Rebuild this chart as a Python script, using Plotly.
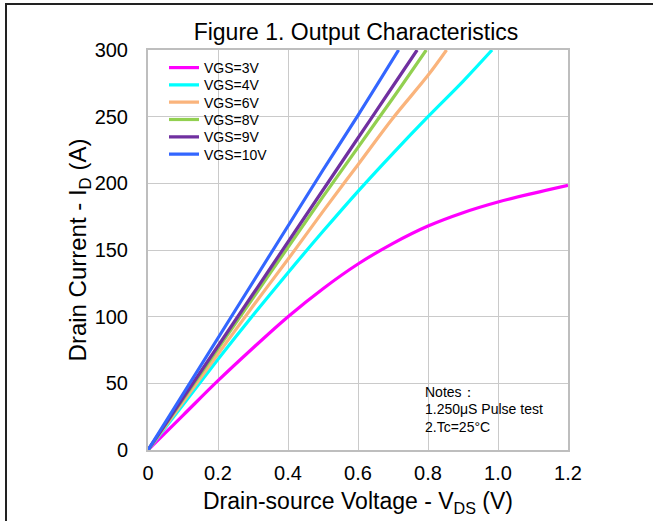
import plotly.graph_objects as go

# ---- data ----
series_names = ["VGS=3V", "VGS=4V", "VGS=6V", "VGS=8V", "VGS=9V", "VGS=10V"]
series_colors = ["#FF00FF", "#00FFFF", "#FAB47C", "#92D050", "#7030A0", "#3366FF"]

vds_3v = [0, 0.1, 0.2, 0.3, 0.4, 0.5, 0.6, 0.7, 0.8, 0.9, 1.0, 1.1, 1.2]
id_3v = [0, 26, 52, 76.5, 100, 121, 139.5, 155, 168, 178, 186, 192.5, 198.5]

vds_4v = [0, 0.1, 0.2, 0.3, 0.4, 0.5, 0.6, 0.7, 0.8, 0.9, 0.983]
id_4v = [0, 34, 68, 101, 133, 164, 194, 222.5, 250, 276.5, 300]

vds_6v = [0, 0.1, 0.2, 0.3, 0.4, 0.5, 0.6, 0.7, 0.8, 0.853]
id_6v = [0, 36, 72, 108, 143, 179, 214, 249, 281, 300]

vds_8v = [0, 0.1, 0.2, 0.3, 0.4, 0.5, 0.6, 0.7, 0.795]
id_8v = [0, 38, 76, 114, 152, 190, 227, 264, 300]

vds_9v = [0, 0.1, 0.2, 0.3, 0.4, 0.5, 0.6, 0.7, 0.769]
id_9v = [0, 39, 78, 117, 156, 195, 234, 273, 300]

vds_10v = [0, 0.1, 0.2, 0.3, 0.4, 0.5, 0.6, 0.716]
id_10v = [0, 42, 84, 126, 168, 210, 251, 300]

x_tickvals = [0, 0.2, 0.4, 0.6, 0.8, 1.0, 1.2]
x_ticktext = ["0", "0.2", "0.4", "0.6", "0.8", "1.0", "1.2"]
y_tickvals = [0, 50, 100, 150, 200, 250, 300]

notes_lines = ["Notes：", "1.250μS Pulse test", "2.Tc=25°C"]
notes_y = [43.7, 30.5, 17.5]

title_text = "Figure 1. Output Characteristics"
x_title = "Drain-source Voltage - V<sub>DS</sub> (V)"
y_title = "Drain Current - I<sub>D</sub> (A)"

FONT = "Liberation Sans, Arial, sans-serif"

xs = [vds_3v, vds_4v, vds_6v, vds_8v, vds_9v, vds_10v]
ys = [id_3v, id_4v, id_6v, id_8v, id_9v, id_10v]

W, H = 653, 521
L, R, T, B = 148, 85, 50, 71
pw, ph = W - L - R, H - T - B

def px_to_paper_x(px):
    return (px - L) / pw

def px_to_paper_y(py):
    return (H - B - py) / ph

legend_keys = ["legend", "legend2", "legend3", "legend4", "legend5", "legend6"]
legend_centers_px = [68, 85.3, 102.6, 119.9, 137.2, 154.5]

fig = go.Figure()
for name, color, x, y, lk in zip(series_names, series_colors, xs, ys, legend_keys):
    fig.add_trace(go.Scatter(x=x, y=y, mode="lines", name=name, legend=lk,
                             line=dict(color=color, width=3.2, shape="spline", smoothing=1.0)))

for txt, yy in zip(notes_lines, notes_y):
    fig.add_annotation(x=0.786, y=yy, xref="x", yref="y", text=txt, showarrow=False,
                       xanchor="left", yanchor="middle",
                       font=dict(family=FONT, size=14, color="black"))

# white box behind the legend (covers gridlines)
fig.add_shape(type="rect", xref="paper", yref="paper", layer="between",
              x0=px_to_paper_x(165), x1=px_to_paper_x(283),
              y0=px_to_paper_y(160), y1=px_to_paper_y(57),
              line=dict(width=0), fillcolor="white")

# outer figure frame (left and top edges visible)
fig.add_shape(type="line", xref="paper", yref="paper",
              x0=px_to_paper_x(6), x1=px_to_paper_x(6),
              y0=px_to_paper_y(3.5), y1=px_to_paper_y(530),
              line=dict(color="#222222", width=2))
fig.add_shape(type="line", xref="paper", yref="paper",
              x0=px_to_paper_x(5), x1=px_to_paper_x(700),
              y0=px_to_paper_y(4), y1=px_to_paper_y(4),
              line=dict(color="#222222", width=2))

legend_layouts = {}
for lk, cy in zip(legend_keys, legend_centers_px):
    legend_layouts[lk] = dict(x=px_to_paper_x(164), y=px_to_paper_y(cy),
                              xanchor="left", yanchor="middle",
                              bgcolor="rgba(0,0,0,0)", borderwidth=0,
                              font=dict(family=FONT, size=14, color="black"))

fig.update_layout(
    width=W, height=H,
    margin=dict(l=L, r=R, t=T, b=B, pad=0),
    paper_bgcolor="white", plot_bgcolor="white",
    font=dict(family=FONT, color="black"),
    title=dict(text=title_text, x=px_to_paper_x(356), xref="paper", xanchor="center",
               y=1 - 32 / H, yref="container", yanchor="middle",
               font=dict(family=FONT, size=23, color="black")),
    showlegend=True,
    xaxis=dict(range=[0, 1.2], tickvals=x_tickvals, ticktext=x_ticktext,
               showgrid=True, gridcolor="#CACACA", gridwidth=1,
               showline=True, linecolor="#BEBEBE", linewidth=2, mirror=True,
               zeroline=False, ticks="", ticklabelstandoff=4,
               tickfont=dict(family=FONT, size=20, color="black"),
               title=dict(text=x_title, font=dict(family=FONT, size=23, color="black"), standoff=10)),
    yaxis=dict(range=[0, 300], tickvals=y_tickvals,
               showgrid=True, gridcolor="#CACACA", gridwidth=1,
               showline=True, linecolor="#BEBEBE", linewidth=2, mirror=True,
               zeroline=False, ticks="", ticklabelstandoff=14,
               tickfont=dict(family=FONT, size=20, color="black"),
               title=dict(text=y_title, font=dict(family=FONT, size=24, color="black"), standoff=0)),
    **legend_layouts,
)

fig.write_html("out.html")
